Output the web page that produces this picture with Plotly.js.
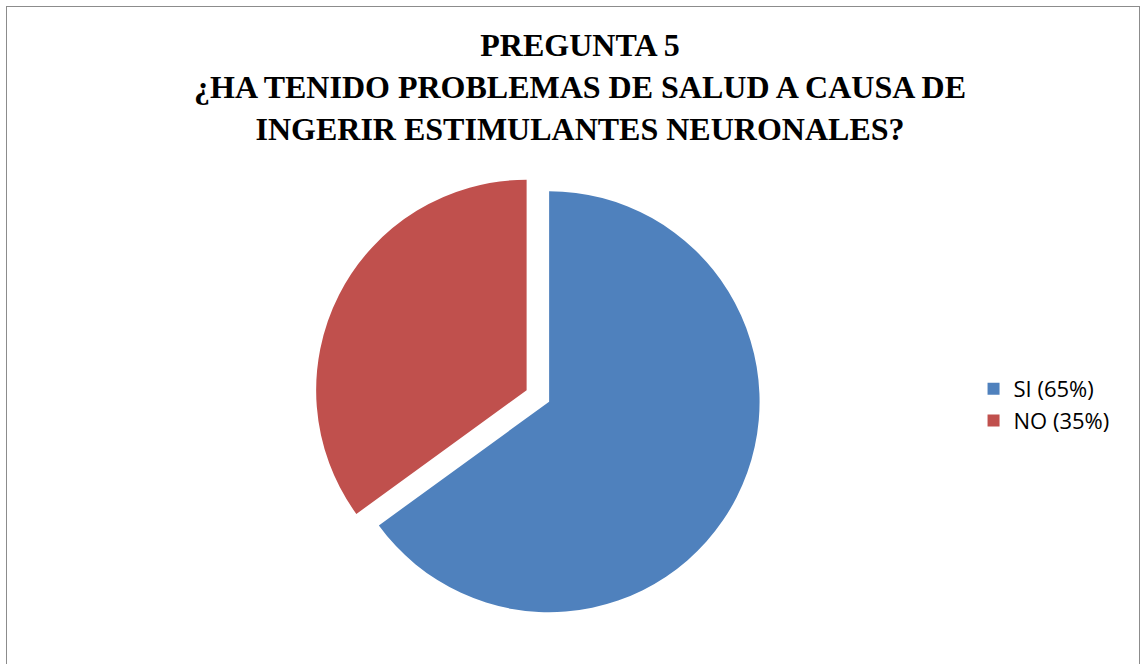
<!DOCTYPE html>
<html><head><meta charset="utf-8">
<script src="https://cdn.plot.ly/plotly-3.0.1.min.js"></script>
<style>
html,body{margin:0;padding:0;background:#fff;}
#frame{position:absolute;left:6px;top:6px;width:1134px;height:670px;border:1px solid #8c8c8c;box-sizing:border-box;}
#chart{position:absolute;left:0;top:0;width:1144px;height:664px;}
</style></head>
<body>
<div id="frame"></div>
<div id="chart"></div>
<script>
const categories = ["SI (65%)", "NO (35%)"];
const values = [65, 35];
const colors = ["#4F81BD", "#C0504D"];
const pulls = [0, 0.12];

const trace = {
  type: "pie",
  labels: categories,
  values: values,
  sort: false,
  direction: "clockwise",
  rotation: 0,
  pull: pulls,
  textinfo: "none",
  hoverinfo: "skip",
  marker: {colors: colors, line: {color: "#ffffff", width: 0}},
  domain: {x: [0.15, 0.81], y: [0.04, 0.75]}
};

const layout = {
  width: 1144, height: 664,
  paper_bgcolor: "rgba(0,0,0,0)",
  plot_bgcolor: "rgba(0,0,0,0)",
  margin: {l: 0, r: 0, t: 0, b: 0},
  title: {
    text: "PREGUNTA 5<br>¿HA TENIDO PROBLEMAS DE SALUD A CAUSA DE<br>INGERIR ESTIMULANTES NEURONALES?",
    font: {family: "Liberation Serif, Times New Roman, serif", size: 32, color: "#000", weight: "bold"},
    x: 0.507, xanchor: "center", y: 0.915, yanchor: "top"
  },
  showlegend: true,
  legend: {
    x: 0.851, xanchor: "left", y: 0.39, yanchor: "middle",
    font: {family: "Open Sans, sans-serif", size: 22, color: "#000"},
    tracegroupgap: 0, itemwidth: 30,
    bgcolor: "rgba(0,0,0,0)"
  }
};

Plotly.newPlot("chart", [trace], layout, {displayModeBar: false, staticPlot: true});
</script>
</body></html>
